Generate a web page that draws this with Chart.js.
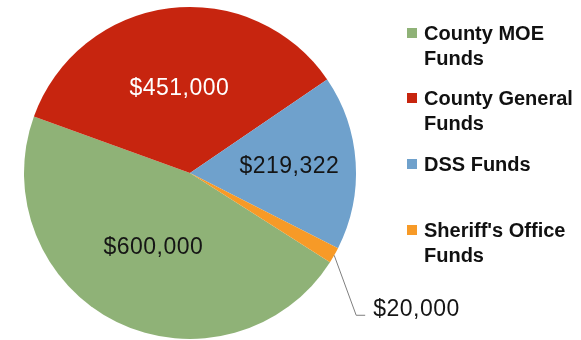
<!DOCTYPE html>
<html>
<head>
<meta charset="utf-8">
<script src="https://cdn.jsdelivr.net/npm/chart.js@4"></script>
<style>
  body { margin: 0; background: #fff; }
  #wrap { position: relative; width: 581px; height: 340px; }
  #funds { position: absolute; left: 0; top: 0; }
  #legend { position: absolute; left: 0; top: 0; font: bold 20px "Liberation Sans", Arial, sans-serif; color: #111; }
  #legend .item { position: absolute; left: 407px; }
  #legend .box { position: absolute; left: 0; top: 7px; width: 10px; height: 10px; }
  #legend .txt { position: absolute; left: 17px; top: 0; line-height: 25px; white-space: nowrap; }
</style>
</head>
<body>
<div id="wrap">
  <canvas id="funds" width="581" height="340"></canvas>
  <div id="legend"></div>
</div>
<script>
// funding sources
var categories = [["County MOE", "Funds"], ["County General", "Funds"], ["DSS Funds"], ["Sheriff's Office", "Funds"]];
var funding = [600000, 451000, 219322, 20000];
var sliceColors = ['#8fb277', '#c7250f', '#6fa1cc', '#f79a27'];
var labelColors = ['#151515', '#ffffff', '#151515', '#151515'];

function money(v) {
    return '$' + v.toLocaleString('en-US');
}

// value labels: inside the big slices, with a leader line for the tiny one
var sliceLabels = {
    id: 'sliceLabels',
    afterDatasetsDraw: function(chart) {
        var ctx = chart.ctx;
        var arcs = chart.getDatasetMeta(0).data;
        var radial = [0.5, 0.51, 0.6];
        ctx.save();
        ctx.font = '23px "Liberation Sans", Arial, sans-serif';
        ctx.letterSpacing = '0.5px';
        ctx.textBaseline = 'middle';
        arcs.forEach(function(arc, i) {
            var p = arc.getProps(['x', 'y', 'startAngle', 'endAngle', 'outerRadius'], true);
            var mid = (p.startAngle + p.endAngle) / 2;
            var text = money(funding[i]);
            ctx.fillStyle = labelColors[i];
            if (i < 3) {
                var r = p.outerRadius * radial[i];
                ctx.textAlign = 'center';
                ctx.fillText(text, p.x + Math.cos(mid) * r, p.y + Math.sin(mid) * r);
            } else {
                var sx = p.x + Math.cos(mid) * p.outerRadius;
                var sy = p.y + Math.sin(mid) * p.outerRadius;
                var ex = sx + 22, ey = sy + 60;
                ctx.strokeStyle = '#7f7f7f';
                ctx.lineWidth = 1;
                ctx.beginPath();
                ctx.moveTo(sx, sy);
                ctx.lineTo(ex, ey);
                ctx.lineTo(ex + 9, ey);
                ctx.stroke();
                ctx.textAlign = 'left';
                ctx.fillText(text, ex + 17, ey - 6);
            }
        });
        ctx.restore();
    }
};

var ctx = document.getElementById('funds').getContext('2d');
var chart = new Chart(ctx, {
    type: 'pie',
    data: {
        labels: categories,
        datasets: [{
            data: funding,
            backgroundColor: sliceColors,
            borderWidth: 0
        }]
    },
    options: {
        responsive: false,
        animation: false,
        rotation: 122.5,
        layout: {
            padding: { left: 24, top: 7, bottom: 1, right: 225 }
        },
        plugins: {
            legend: { display: false },
            tooltip: { enabled: false }
        }
    },
    plugins: [sliceLabels]
});

// legend on the right
var legend = document.getElementById('legend');
categories.forEach(function(lines, i) {
    var item = document.createElement('div');
    item.className = 'item';
    item.style.top = (20.5 + i * 65.7) + 'px';
    var box = document.createElement('div');
    box.className = 'box';
    box.style.background = sliceColors[i];
    var txt = document.createElement('div');
    txt.className = 'txt';
    txt.innerHTML = lines.join('<br>');
    item.appendChild(box);
    item.appendChild(txt);
    legend.appendChild(item);
});
</script>
</body>
</html>
